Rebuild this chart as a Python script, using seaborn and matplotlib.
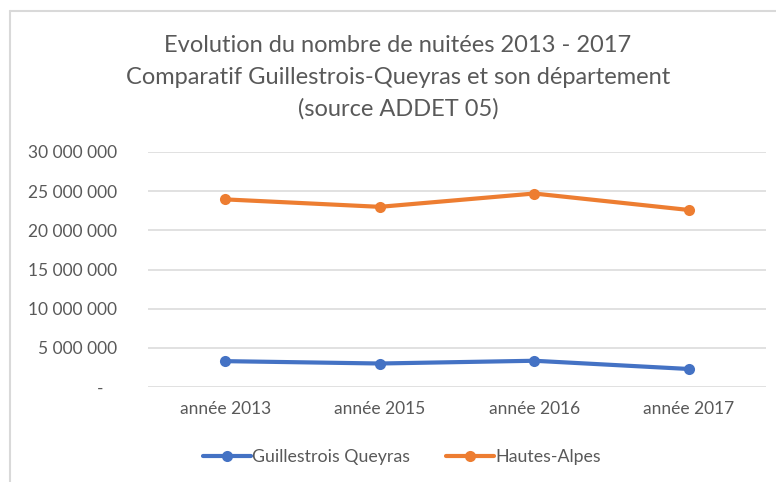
import matplotlib
matplotlib.use("Agg")
import matplotlib.pyplot as plt
import seaborn as sns
import pandas as pd
from matplotlib.lines import Line2D
from matplotlib.ticker import FuncFormatter

categories = ["année 2013", "année 2015", "année 2016", "année 2017"]
guillestrois = [3300000, 3000000, 3350000, 2300000]
hautes_alpes = [23950000, 23000000, 24700000, 22600000]
series_names = ["Guillestrois Queyras", "Hautes-Alpes"]
title_lines = ["Evolution du nombre de nuitées 2013 - 2017",
               "Comparatif Guillestrois-Queyras et son département",
               "(source ADDET 05)"]

df = pd.DataFrame({
    "cat": categories * 2,
    "val": guillestrois + hautes_alpes,
    "serie": [series_names[0]] * 4 + [series_names[1]] * 4,
})

sns.set_theme(style="white")
plt.rcParams["font.family"] = ["Lato", "DejaVu Sans"]

TXT = "#595959"
GRID = "#d9d9d9"
colors = {series_names[0]: "#4472C4", series_names[1]: "#ED7D31"}
LW = 3.0
MS = 8

W, H = 776, 482
fig = plt.figure(figsize=(W / 100, H / 100), dpi=100)
ax = fig.add_axes([148 / W, 1 - 387 / H, (766 - 148) / W, (387 - 152) / H])

sns.lineplot(data=df, x="cat", y="val", hue="serie", palette=colors,
             marker="o", markersize=MS, markeredgewidth=0, linewidth=LW,
             sort=False, ax=ax, legend=False)

ax.set_xlim(-0.5, 3.5)
ax.set_ylim(0, 30000000)
ax.set_yticks(range(0, 30000001, 5000000))

def fmt(v, pos):
    if v == 0:
        return "-   "
    return f"{int(v):,}".replace(",", " ")

ax.yaxis.set_major_formatter(FuncFormatter(fmt))
ax.grid(axis="y", color=GRID, linewidth=1.1)
ax.grid(axis="x", visible=False)
for s in ax.spines.values():
    s.set_visible(False)
ax.tick_params(axis="y", length=0, pad=22, labelsize=12.5, labelcolor=TXT)
ax.tick_params(axis="x", length=0, pad=10, labelsize=12.5, labelcolor=TXT)
ax.set_xlabel("")
ax.set_ylabel("")
ax.set_axisbelow(True)

ys = [45, 77, 109]
for t, y in zip(title_lines, ys):
    fig.text(398 / W, 1 - y / H, t, ha="center", va="center",
             fontsize=17, color=TXT)

handles = [Line2D([0], [0], color=colors[n], linewidth=LW, marker="o",
                  markersize=MS, markeredgewidth=0) for n in series_names]
fig.legend(handles, series_names, loc="center", bbox_to_anchor=(402 / W, 1 - 457 / H),
           ncol=2, frameon=False, fontsize=12.8, labelcolor=TXT,
           handlelength=2.7, handletextpad=0.1, columnspacing=2.0)

fig.add_artist(Line2D([10 / W, 1], [1 - 11 / H, 1 - 11 / H], color=GRID,
                      linewidth=1.5, transform=fig.transFigure))
fig.add_artist(Line2D([10 / W, 10 / W], [0, 1 - 11 / H], color=GRID,
                      linewidth=1.5, transform=fig.transFigure))

fig.savefig("out.png", dpi=100, facecolor="white")
